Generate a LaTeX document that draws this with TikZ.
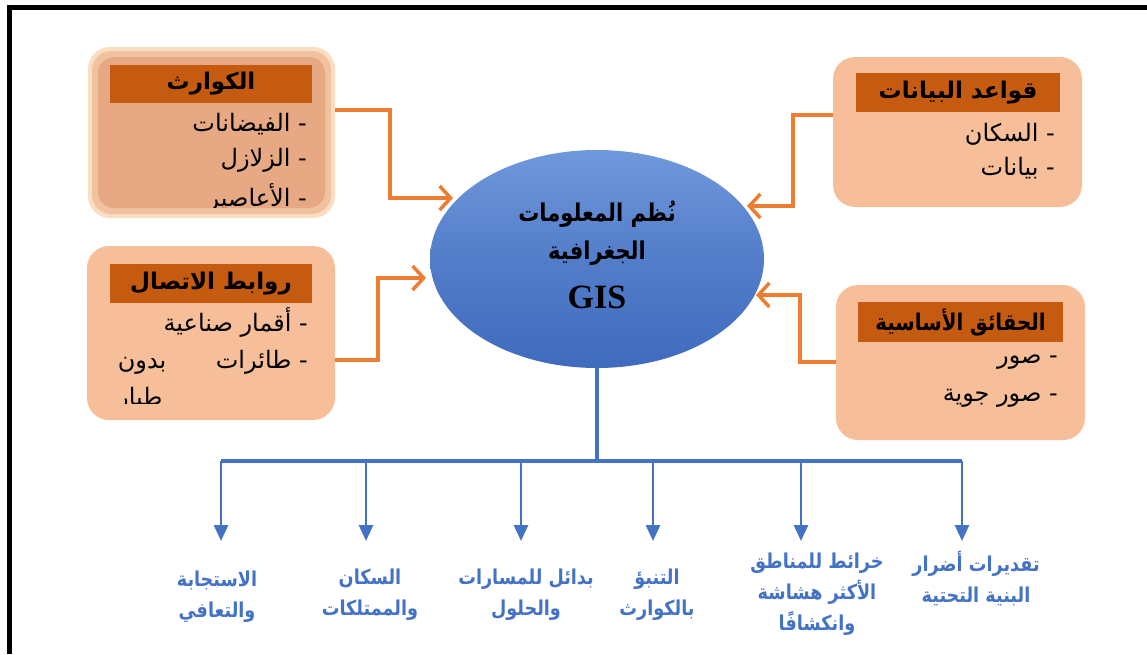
\documentclass[tikz,border=0pt]{standalone}
\usepackage{fontspec}
\usetikzlibrary{shapes.geometric,arrows.meta,calc}
\TeXXeTstate=1
\newfontfamily\arabicfont[Script=Arabic]{DejaVu Sans}
\newfontfamily\arabicnarrow[Script=Arabic,FakeStretch=0.86]{DejaVu Sans}
\newfontfamily\gisfont{Liberation Serif}
\newcommand\artxt[1]{{\arabicfont\beginR #1\endR}}
\newcommand\arnar[1]{{\arabicnarrow\beginR #1\endR}}
\definecolor{orng}{HTML}{ED7D31}
\definecolor{bluec}{HTML}{4472C4}
\definecolor{hdrc}{HTML}{C55A11}
\definecolor{boxc}{HTML}{F6BF99}
\definecolor{glowA}{HTML}{FBDDC2}
\definecolor{glowB}{HTML}{F1C29F}
\definecolor{glowC}{HTML}{E6A984}
\definecolor{ellTop}{HTML}{7098DC}
\definecolor{ellBot}{HTML}{3F6BBE}
\begin{document}
\begin{tikzpicture}[x=1pt,y=-1pt,
  panel/.style={rounded corners=22, fill=boxc, inner sep=0},
  hdr/.style={fill=hdrc, inner sep=0, minimum height=38,
    font=\arabicfont\bfseries\fontsize{23}{26}\selectfont},
  item/.style={anchor=east, inner sep=0, font=\arabicfont\fontsize{24}{26}\selectfont},
  oarr/.style={draw=orng, line width=3.5, -{Straight Barb[length=11pt,width=24pt,line width=3.5pt]}},
  bline/.style={draw=bluec, line width=3.5},
  barr/.style={draw=bluec, line width=2.8, -{Triangle[length=16pt,width=14pt]}},
  lbl/.style={text=bluec, align=center, inner sep=0,
    font=\arabicnarrow\bfseries\fontsize{20.5}{31}\selectfont}
]
\useasboundingbox (0,0) rectangle (1147,654);
% frame (top and left edges visible)
\draw[line width=5, black] (9.5,5) -- (9.5,654);
\draw[line width=5, black] (7,7.5) -- (1147,7.5);

% ---------- top-left panel (with glow) ----------
\node[panel, fill=glowA, minimum width=247, minimum height=171] (disast) at (211.5,132.5) {};
\fill[glowB, rounded corners=19] (92,51) rectangle (331,214);
\fill[glowC, rounded corners=16] (98,57) rectangle (325,208);
\node[hdr, minimum width=202] (h1) at (211,84) {\artxt{الكوارث}};
\begin{scope}
  \clip (88,104) rectangle (335,207);
  \node[item] (i11) at (307,124) {\artxt{- الفيضانات}};
  \node[item] (i12) at (307,160) {\artxt{- الزلازل}};
  \node[item] (i13) at (307,198) {\artxt{- الأعاصير}};
\end{scope}

% ---------- top-right panel ----------
\node[panel, minimum width=249, minimum height=150] (dbase) at (957.5,132) {};
\node[hdr, minimum width=204, minimum height=39] (h2) at (958,92.5) {\artxt{قواعد البيانات}};
\node[item] (i21) at (1055,134) {\artxt{- السكان}};
\node[item] (i22) at (1055,168) {\artxt{- بيانات}};

% ---------- middle-left panel ----------
\node[panel, minimum width=248, minimum height=174] (links) at (211,333) {};
\node[hdr, minimum width=202, minimum height=39] (h3) at (211,283.5) {\artxt{روابط الاتصال}};
\begin{scope}
  \clip (87,304) rectangle (335,403);
  \node[item] (i31) at (308,322) {\artxt{- أقمار صناعية}};
  \node[item] (i32) at (308,362) {\hbox to 190pt{\beginR - طائرات\hfill بدون\endR}};
  \node[item, anchor=west] (i33) at (117,399) {\artxt{طيار}};
\end{scope}

% ---------- middle-right panel ----------
\node[panel, minimum width=249, minimum height=155] (facts) at (960.5,362.5) {};
\node[hdr, minimum width=205, minimum height=40, font=\arabicnarrow\bfseries\fontsize{23}{26}\selectfont] (h4) at (960.5,322) {\arnar{الحقائق الأساسية}};
\node[item] (i41) at (1058,362) {\artxt{- صور}};
\node[item] (i42) at (1058,398) {\artxt{- صور جوية}};

% ---------- central ellipse ----------
\node[ellipse, minimum width=334, minimum height=218, inner sep=0,
      top color=ellTop, bottom color=ellBot, middle color=bluec!92!white] (gis) at (597,259) {};
\node[inner sep=0, align=center, font=\arabicnarrow\bfseries\fontsize{24.5}{38}\selectfont] (gtxt) at (597,233)
  {\arnar{نُظم المعلومات}\\ \arnar{الجغرافية}};
\node[inner sep=0, font=\gisfont\bfseries\fontsize{34}{36}\selectfont] (gis2) at (597,297) {GIS};

% ---------- orange connectors ----------
\coordinate (a1) at (390,110); \coordinate (a1b) at (390,198); \coordinate (a1t) at (453,198);
\draw[oarr] (disast.east |- a1) -- (a1) -- (a1b) -- (a1t);
\coordinate (a2) at (378,360); \coordinate (a2b) at (378,278); \coordinate (a2t) at (426,278);
\draw[oarr] (links.east |- a2) -- (a2) -- (a2b) -- (a2t);
\coordinate (a3) at (793,115); \coordinate (a3b) at (793,206); \coordinate (a3t) at (747,206);
\draw[oarr] (dbase.west |- a3) -- (a3) -- (a3b) -- (a3t);
\coordinate (a4) at (800,362); \coordinate (a4b) at (800,295); \coordinate (a4t) at (756,295);
\draw[oarr] (facts.west |- a4) -- (a4) -- (a4b) -- (a4t);

% ---------- blue tree ----------
\coordinate (bus) at (597,461);
\coordinate (busL) at (221,461); \coordinate (busR) at (962,461);
\draw[bline] (gis.south) -- (bus);
\draw[bline] (busL) -- (busR);
\foreach \n/\x in {1/221,2/366,3/521,4/653,5/801,6/962}{
  \coordinate (d\n) at (\x,461);
  \coordinate (t\n) at (\x,541);
  \draw[barr] (d\n) -- (t\n);
}

% ---------- bottom labels ----------
\node[lbl] (l1) at (217,597) {\arnar{الاستجابة}\\ \arnar{والتعافي}};
\node[lbl] (l2) at (370,595) {\arnar{السكان}\\ \arnar{والممتلكات}};
\node[lbl] (l3) at (526,595) {\arnar{بدائل للمسارات}\\ \arnar{والحلول}};
\node[lbl] (l4) at (657,595) {\arnar{التنبؤ}\\ \arnar{بالكوارث}};
\node[lbl] (l5) at (817,594) {\arnar{خرائط للمناطق}\\ \arnar{الأكثر هشاشة}\\ \arnar{وانكشافًا}};
\node[lbl] (l6) at (976,578.5) {\arnar{تقديرات أضرار}\\ \arnar{البنية التحتية}};
\end{tikzpicture}
\end{document}
